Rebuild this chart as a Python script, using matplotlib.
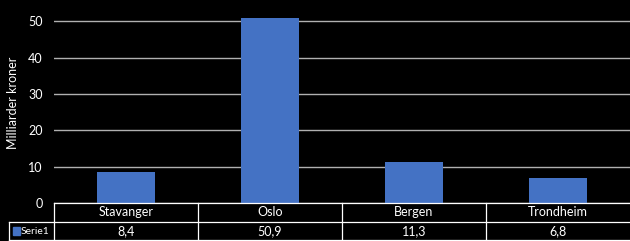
import matplotlib
matplotlib.use('Agg')
import matplotlib.pyplot as plt
import matplotlib.transforms as mtransforms
from matplotlib.patches import Rectangle

categories = ['Stavanger', 'Oslo', 'Bergen', 'Trondheim']
values = [8.4, 50.9, 11.3, 6.8]
value_labels = ['8,4', '50,9', '11,3', '6,8']
series_name = 'Serie1'

bar_color = '#4472C4'
plt.rcParams['font.family'] = ['Lato', 'DejaVu Sans']

fig = plt.figure(figsize=(6.3, 2.41), dpi=100, facecolor='black')
ax = fig.add_axes([54 / 630, 38 / 241, 576 / 630, 200 / 241], facecolor='black')

x = range(len(categories))
ax.bar(x, values, width=0.4, color=bar_color, zorder=3)
ax.set_xlim(-0.5, len(categories) - 0.5)
ax.set_ylim(0, 55)
ax.set_yticks([0, 10, 20, 30, 40, 50])
ax.grid(axis='y', color='#b0b0b0', linewidth=1, zorder=0)
ax.tick_params(axis='y', length=0, colors='white', labelsize=9, pad=8)
ax.set_xticks([])
for s in ax.spines.values():
    s.set_visible(False)
ax.set_ylabel('Milliarder kroner', color='white', fontsize=9, labelpad=7)

# data table under the plot
tr = mtransforms.blended_transform_factory(ax.transData, ax.transAxes)
lc = 'white'
lw = 0.9
y0, y1, y2 = 0, -0.095, -0.185
left_leg = -0.5 - 45 / 144
right = len(categories) - 0.5
ax.plot([-0.5, right], [y0, y0], color=lc, lw=lw, transform=tr, clip_on=False, zorder=4)
ax.plot([left_leg, right], [y1, y1], color=lc, lw=lw, transform=tr, clip_on=False)
ax.plot([left_leg, right], [y2, y2], color=lc, lw=lw, transform=tr, clip_on=False)
ax.plot([left_leg, left_leg], [y1, y2], color=lc, lw=lw, transform=tr, clip_on=False)
for i in range(len(categories)):
    ax.plot([i - 0.5, i - 0.5], [y0, y2], color=lc, lw=lw, transform=tr, clip_on=False)
    ax.text(i, (y0 + y1) / 2, categories[i], color='white', fontsize=9,
            ha='center', va='center', transform=tr)
    ax.text(i, (y1 + y2) / 2, value_labels[i], color='white', fontsize=9,
            ha='center', va='center', transform=tr)

# legend key in the table
ax.add_patch(Rectangle((left_leg + 4 / 144, (y1 + y2) / 2 - 0.02), 7 / 144, 0.04,
                       color=bar_color, transform=tr, clip_on=False))
ax.text(left_leg + 12 / 144, (y1 + y2) / 2, series_name, color='white', fontsize=7.5,
        ha='left', va='center', transform=tr)

fig.savefig('out.png', dpi=100, facecolor='black')
